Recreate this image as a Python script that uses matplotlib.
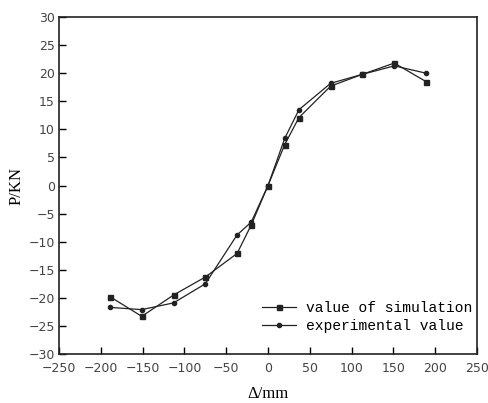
import matplotlib
matplotlib.use("Agg")
import matplotlib.pyplot as plt

# displacement (mm) and load (kN)
disp = [-189, -151, -113, -75, -37, -20, 0, 20, 37, 75, 113, 151, 189]
sim_load = [-19.8, -23.3, -19.5, -16.3, -12.1, -7.0, 0.0, 7.3, 12.1, 17.7, 19.8, 21.8, 18.5]
exp_load = [-21.7, -22.1, -20.9, -17.5, -8.8, -6.5, 0.0, 8.4, 13.5, 18.2, 19.8, 21.3, 20.0]

xticks = list(range(-250, 251, 50))
yticks = list(range(-30, 31, 5))

fig = plt.figure(figsize=(4.89, 4.03), dpi=100)
ax = fig.add_axes([0.1207, 0.1216, 0.8548, 0.8362])

ax.plot(disp, sim_load, color="#222222", lw=0.9, marker="s", markersize=3.6,
        label="value of simulation")
ax.plot(disp, exp_load, color="#222222", lw=0.9, marker="o", markersize=3,
        label="experimental value")

ax.set_xlim(-250, 250)
ax.set_ylim(-30, 30)
ax.set_xticks(xticks)
ax.set_yticks(yticks)
ax.tick_params(direction="in", length=5, width=1, labelsize=9,
               labelcolor="#444444")
ax.tick_params(axis="x", pad=6)
ax.tick_params(axis="y", pad=3)
for s in ax.spines.values():
    s.set_linewidth(1.2)
    s.set_color("#222222")

ax.set_xlabel("Δ/mm", fontfamily="Liberation Serif", fontsize=12, labelpad=8)
ax.set_ylabel("P/KN", fontfamily="Liberation Serif", fontsize=12, labelpad=3)

ax.legend(loc="center left", bbox_to_anchor=(0.486, 0.109), frameon=False,
          prop={"family": "Liberation Mono", "size": 10.5},
          handlelength=2.3, handletextpad=0.7, labelspacing=0.3,
          borderpad=0, borderaxespad=0)

fig.savefig("out.png", dpi=100)
